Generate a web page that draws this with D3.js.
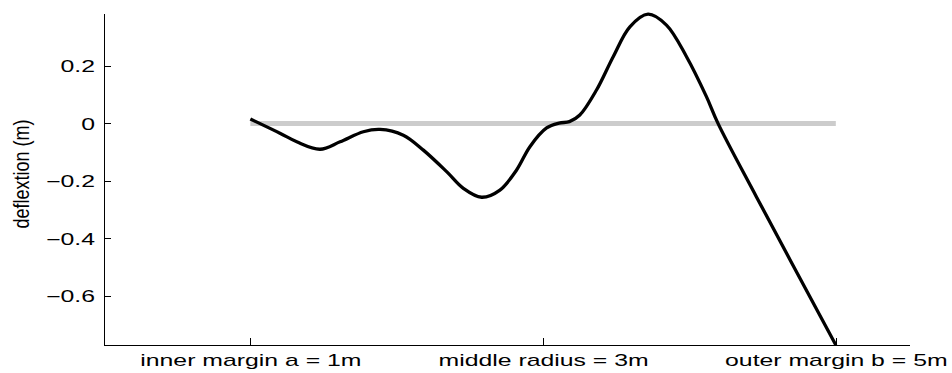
<!DOCTYPE html>
<html>
<head>
<meta charset="utf-8">
<script src="https://cdn.jsdelivr.net/npm/d3@7"></script>
<style>
  body { margin: 0; background: #fff; }
  svg { display: block; }
  text { font-family: "Liberation Sans", Arial, Helvetica, sans-serif; fill: #000; }
</style>
</head>
<body>
<div id="chart-holder"></div>
<script>
// radius positions (m)
var radius = [1.0, 1.205, 1.317, 1.476, 1.613, 1.772, 1.886, 2.045, 2.182, 2.341, 2.455, 2.58, 2.705, 2.819, 2.91, 3.024, 3.11, 3.18, 3.251, 3.365, 3.479, 3.593, 3.717, 3.843, 3.98, 4.116, 4.195, 4.457, 5.0];
// deflection (m) at those positions
var deflexion = [0.015, -0.035, -0.064, -0.09, -0.064, -0.029, -0.021, -0.041, -0.093, -0.168, -0.226, -0.257, -0.232, -0.162, -0.081, -0.016, 0.001, 0.006, 0.029, 0.116, 0.232, 0.336, 0.38, 0.342, 0.232, 0.093, 0.0, -0.255, -0.771];
// undeflected reference line
var baseR = [1, 5];
var baseY = [0, 0];

var xTicks = [1, 3, 5];
var xTickLabels = ["inner margin a = 1m", "middle radius = 3m", "outer margin b = 5m"];
var yTicks = [-0.6, -0.4, -0.2, 0, 0.2];
var xLimits = [0, 5.5];
var yLimits = [-0.771, 0.384];

var margin = { top: 13, right: 43, bottom: 28, left: 104 },
  width = 952 - margin.left - margin.right,
  height = 373 - margin.top - margin.bottom;
var sx = 1.55; // the text in the picture is stretched sideways

var x = d3.scaleLinear().domain(xLimits).range([0, width]);
var y = d3.scaleLinear().domain(yLimits).range([height, 0]);

var svg = d3.select("#chart-holder").append("svg")
  .attr("width", 952)
  .attr("height", 373)
  .append("g")
  .attr("transform", "translate(" + margin.left + "," + margin.top + ")");

// reference line at zero
var base = baseR.map(function (r, i) { return { r: r, v: baseY[i] }; });
svg.append("path")
  .datum(base)
  .attr("fill", "none")
  .attr("stroke", "#cccccc")
  .attr("stroke-width", 5)
  .attr("d", d3.line().x(function (d) { return x(d.r); }).y(function (d) { return y(d.v); }));

// deflection curve
var pts = radius.map(function (r, i) { return { r: r, v: deflexion[i] }; });
svg.append("path")
  .datum(pts)
  .attr("fill", "none")
  .attr("stroke", "#000")
  .attr("stroke-width", 3.3)
  .attr("stroke-linejoin", "round")
  .attr("d", d3.line().curve(d3.curveCatmullRom.alpha(0.5))
    .x(function (d) { return x(d.r); })
    .y(function (d) { return y(d.v); }));

// y axis, ticks pointing inwards
var yAxis = svg.append("g")
  .call(d3.axisLeft(y).tickValues(yTicks).tickSizeInner(-7).tickSizeOuter(0)
    .tickFormat(function (d) { return d === 0 ? "0" : d3.format(".1f")(d).replace("-", "\u2212"); }));
yAxis.select(".domain").attr("stroke", "#000");
yAxis.selectAll(".tick line").attr("stroke", "#000");
yAxis.selectAll(".tick text")
  .attr("x", 0).attr("dy", null)
  .attr("font-size", 16)
  .attr("text-anchor", "end")
  .attr("dominant-baseline", "central")
  .attr("transform", "translate(-9,0) scale(" + sx + ",1)")
  .attr("font-family", null);

// x axis, ticks pointing inwards
var xAxis = svg.append("g")
  .attr("transform", "translate(0," + height + ")")
  .call(d3.axisBottom(x).tickValues(xTicks).tickSizeInner(-7).tickSizeOuter(0)
    .tickFormat(function (d, i) { return xTickLabels[i]; }));
xAxis.select(".domain").attr("stroke", "#000");
xAxis.selectAll(".tick line").attr("stroke", "#000");
xAxis.selectAll(".tick text")
  .attr("y", 0).attr("dy", null)
  .attr("font-size", 16)
  .attr("text-anchor", "middle")
  .attr("transform", "translate(0,21) scale(" + sx + ",1)")
  .attr("font-family", null);
svg.selectAll(".domain, .tick line").attr("shape-rendering", "crispEdges");

// y label
svg.append("text")
  .attr("transform", "translate(" + (-75) + "," + (height / 2 - 5) + ") scale(1.25,1) rotate(-90)")
  .attr("text-anchor", "middle")
  .attr("font-size", 18)
  .text("deflextion (m)");
</script>
</body>
</html>
